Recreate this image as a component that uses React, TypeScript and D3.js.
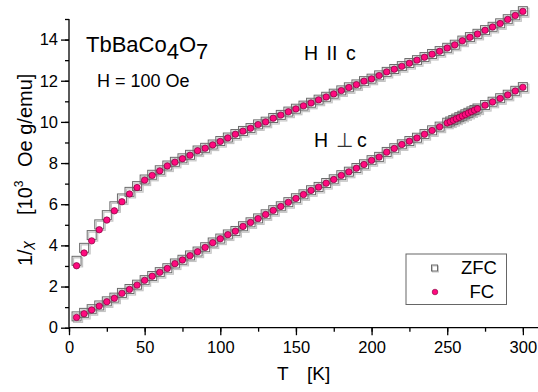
import { useRef, useEffect } from "react";
import * as d3 from "d3";

// 1/chi vs T for TbBaCo4O7, H = 100 Oe
const T_PAR = [5, 10, 15, 20, 25, 30, 35, 40, 45, 50, 55, 60, 65, 70, 75, 80, 85, 90, 95, 100,
  105, 110, 115, 120, 125, 130, 135, 140, 145, 150, 155, 160, 165, 170, 175, 180, 185, 190, 195, 200,
  205, 210, 215, 220, 225, 230, 235, 240, 245, 250, 255, 260, 265, 270, 275, 280, 285, 290, 295, 300];
const PAR_FC = [3.01, 3.63, 4.22, 4.76, 5.23, 5.68, 6.12, 6.5, 6.81, 7.17, 7.4, 7.62, 7.86, 8.04, 8.21, 8.38, 8.6, 8.72, 8.88, 9.05,
  9.22, 9.4, 9.55, 9.69, 9.87, 10.0, 10.18, 10.33, 10.49, 10.63, 10.78, 10.92, 11.07, 11.21, 11.36, 11.52, 11.67, 11.81, 11.98, 12.09,
  12.25, 12.43, 12.56, 12.7, 12.85, 13.0, 13.14, 13.29, 13.43, 13.59, 13.74, 13.94, 14.11, 14.27, 14.45, 14.61, 14.78, 14.98, 15.17, 15.37];
const PAR_ZFC = [3.25, 3.88, 4.5, 5.02, 5.47, 5.9, 6.28, 6.6, 6.88, 7.2, 7.43, 7.65, 7.88, 8.06, 8.23, 8.4, 8.61, 8.74, 8.9, 9.07,
  9.24, 9.41, 9.56, 9.7, 9.88, 10.01, 10.19, 10.34, 10.5, 10.64, 10.79, 10.93, 11.08, 11.22, 11.37, 11.53, 11.68, 11.82, 11.98, 12.1,
  12.26, 12.43, 12.57, 12.71, 12.86, 13.0, 13.15, 13.3, 13.44, 13.6, 13.75, 13.95, 14.12, 14.28, 14.46, 14.62, 14.79, 14.99, 15.18, 15.38];

const T_PERP = [5, 10, 15, 20, 25, 30, 35, 40, 45, 50, 55, 60, 65, 70, 75, 80, 85, 90, 95, 100,
  105, 110, 115, 120, 125, 130, 135, 140, 145, 150, 155, 160, 165, 170, 175, 180, 185, 190, 195, 200,
  205, 210, 215, 220, 225, 230, 235, 240, 245, 250, 252, 254, 256, 258, 260, 262, 264, 266, 268, 270,
  275, 280, 285, 290, 295, 300];
const PERP_FC = [0.5, 0.68, 0.86, 1.05, 1.26, 1.43, 1.67, 1.86, 2.07, 2.3, 2.5, 2.69, 2.88, 3.11, 3.29, 3.5, 3.69, 3.9, 4.13, 4.32,
  4.52, 4.69, 4.92, 5.11, 5.3, 5.5, 5.7, 5.89, 6.09, 6.28, 6.47, 6.67, 6.83, 7.02, 7.2, 7.4, 7.57, 7.75, 7.93, 8.13,
  8.29, 8.53, 8.71, 8.9, 9.06, 9.22, 9.4, 9.58, 9.76, 9.95, 10.01, 10.08, 10.15, 10.22, 10.29, 10.36, 10.43, 10.5, 10.57, 10.64,
  10.81, 10.97, 11.14, 11.31, 11.5, 11.68];
const PERP_ZFC = [0.55, 0.72, 0.9, 1.08, 1.28, 1.46, 1.69, 1.88, 2.09, 2.31, 2.51, 2.7, 2.89, 3.12, 3.3, 3.51, 3.7, 3.91, 4.14, 4.33,
  4.53, 4.7, 4.93, 5.12, 5.31, 5.51, 5.71, 5.9, 6.1, 6.29, 6.48, 6.68, 6.84, 7.03, 7.21, 7.41, 7.58, 7.76, 7.94, 8.14,
  8.3, 8.54, 8.72, 8.91, 9.07, 9.23, 9.41, 9.59, 9.77, 9.96, 10.02, 10.09, 10.16, 10.23, 10.3, 10.37, 10.44, 10.51, 10.58, 10.65,
  10.82, 10.98, 11.15, 11.32, 11.51, 11.69];

const X_TICKS = [0, 50, 100, 150, 200, 250, 300];
const Y_TICKS = [0, 2, 4, 6, 8, 10, 12, 14];

const W = 538;
const H = 392;
const FONT = "'Liberation Sans', Arial, sans-serif";

export default function App() {
  const svgRef = useRef<SVGSVGElement>(null);

  useEffect(() => {
    if (!svgRef.current) return;
    const svg = d3.select(svgRef.current);
    svg.selectAll("*").remove();
    svg.attr("width", W).attr("height", H);

    const x = d3.scaleLinear().domain([0, 310]).range([69, 538]);
    const y = d3.scaleLinear().domain([0, 15]).range([327.7, 19]);

    // Axes
    const xAxis = svg.append("g").attr("transform", `translate(0,${y(0)})`)
      .call(d3.axisBottom(x).tickValues(d3.range(0, 310, 25)).tickSize(4).tickFormat(() => ""));
    xAxis.select(".domain").remove();
    xAxis.selectAll("line").attr("stroke", "#000").attr("stroke-width", 1.3);
    const xMaj = svg.append("g").attr("transform", `translate(0,${y(0)})`)
      .call(d3.axisBottom(x).tickValues(X_TICKS).tickSize(7.5).tickPadding(6).tickFormat(d3.format("d")));
    xMaj.select(".domain").attr("stroke", "#000").attr("stroke-width", 1.3).attr("d", `M${x(0)},0H${W}`);
    xMaj.selectAll("line").attr("stroke", "#000").attr("stroke-width", 1.3);
    xMaj.selectAll("text").attr("font-family", FONT).attr("font-size", "16.5px").attr("fill", "#000");

    const yAxis = svg.append("g").attr("transform", `translate(${x(0)},0)`)
      .call(d3.axisLeft(y).tickValues(d3.range(0, 15.5, 1)).tickSize(4).tickFormat(() => ""));
    yAxis.select(".domain").remove();
    yAxis.selectAll("line").attr("stroke", "#000").attr("stroke-width", 1.3);
    const yMaj = svg.append("g").attr("transform", `translate(${x(0)},0)`)
      .call(d3.axisLeft(y).tickValues(Y_TICKS).tickSize(8).tickPadding(3).tickFormat(d3.format("d")));
    yMaj.select(".domain").attr("stroke", "#000").attr("stroke-width", 1.3).attr("d", `M0,${y(0)}V${y(15)}`);
    yMaj.selectAll("line").attr("stroke", "#000").attr("stroke-width", 1.3);
    yMaj.selectAll("text").attr("font-family", FONT).attr("font-size", "16.5px").attr("fill", "#000");

    // Markers
    const sq = 9;
    const drawZFC = (ts: number[], vs: number[]) => {
      const pts = ts.map((t, i) => ({ t, v: vs[i] }));
      const g = svg.append("g");
      g.selectAll(".sh").data(pts).join("rect")
        .attr("x", d => x(d.t) - sq / 2 + 1.5).attr("y", d => y(d.v) - sq / 2 + 1.5)
        .attr("width", sq).attr("height", sq).attr("fill", "none").attr("stroke", "#c4c4c4").attr("stroke-width", 1.2);
      g.selectAll(".sq").data(pts).join("rect")
        .attr("x", d => x(d.t) - sq / 2).attr("y", d => y(d.v) - sq / 2)
        .attr("width", sq).attr("height", sq).attr("fill", "none").attr("stroke", "#6a6a6a").attr("stroke-width", 1);
    };
    const drawFC = (ts: number[], vs: number[]) => {
      svg.append("g").selectAll("circle").data(ts.map((t, i) => ({ t, v: vs[i] }))).join("circle")
        .attr("cx", d => x(d.t)).attr("cy", d => y(d.v)).attr("r", 3.2)
        .attr("fill", "#ff0a7e").attr("stroke", "#80003c").attr("stroke-width", 0.7);
    };
    drawZFC(T_PAR, PAR_ZFC);
    drawZFC(T_PERP, PERP_ZFC);
    drawFC(T_PAR, PAR_FC);
    drawFC(T_PERP, PERP_FC);

    // Texts
    const txt = (tx: number, ty: number, size: number) =>
      svg.append("text").attr("x", tx).attr("y", ty).attr("font-family", FONT)
        .attr("font-size", `${size}px`).attr("fill", "#000");

    const f = txt(86, 52, 22);
    f.append("tspan").text("TbBaCo");
    f.append("tspan").attr("dy", 7).text("4");
    f.append("tspan").attr("dy", -7).text("O");
    f.append("tspan").attr("dy", 7).text("7");

    txt(97, 87, 18).text("H = 100 Oe");

    const hp = txt(304, 60, 19.5);
    hp.append("tspan").text("H");
    hp.append("tspan").attr("x", 326.5).text("II");
    hp.append("tspan").attr("x", 346).text("c");

    const hn = txt(314, 147, 19.5);
    hn.append("tspan").text("H");
    hn.append("tspan").attr("x", 335.5).attr("fill", "#333").text("⊥");
    hn.append("tspan").attr("x", 357).text("c");

    const xl = txt(277, 380, 19);
    xl.append("tspan").text("T");
    xl.append("tspan").attr("x", 307).text("[K]");

    const yl = svg.append("text").attr("transform", "rotate(-90)")
      .attr("font-family", FONT).attr("font-size", "20px").attr("fill", "#000");
    yl.append("tspan").attr("x", -266).attr("y", 32).text("1/");
    yl.append("tspan").attr("font-size", "15px").attr("font-style", "italic").text("χ");
    yl.append("tspan").attr("x", -215).text("[10");
    yl.append("tspan").attr("font-size", "12px").attr("dy", -9).text("3");
    yl.append("tspan").attr("x", -167).attr("dy", 9).text("Oe g/emu]");

    // Legend
    svg.append("rect").attr("x", 406).attr("y", 254).attr("width", 100.5).attr("height", 50.5)
      .attr("fill", "#fff").attr("stroke", "#666").attr("stroke-width", 1);
    svg.append("rect").attr("x", 432.5).attr("y", 266).attr("width", 6).attr("height", 6)
      .attr("fill", "none").attr("stroke", "#c4c4c4").attr("stroke-width", 1);
    svg.append("rect").attr("x", 431.5).attr("y", 265).attr("width", 6).attr("height", 6)
      .attr("fill", "none").attr("stroke", "#6a6a6a").attr("stroke-width", 1);
    svg.append("circle").attr("cx", 435).attr("cy", 292).attr("r", 2.8)
      .attr("fill", "#ff0a7e").attr("stroke", "#80003c").attr("stroke-width", 0.6);
    txt(461, 274, 18.5).text("ZFC");
    txt(469.5, 298, 18.5).text("FC");
  }, []);

  return (
    <div style={{ position: "absolute", left: 0, top: 0, background: "#fff" }}>
      <svg ref={svgRef} style={{ display: "block" }} />
    </div>
  );
}
